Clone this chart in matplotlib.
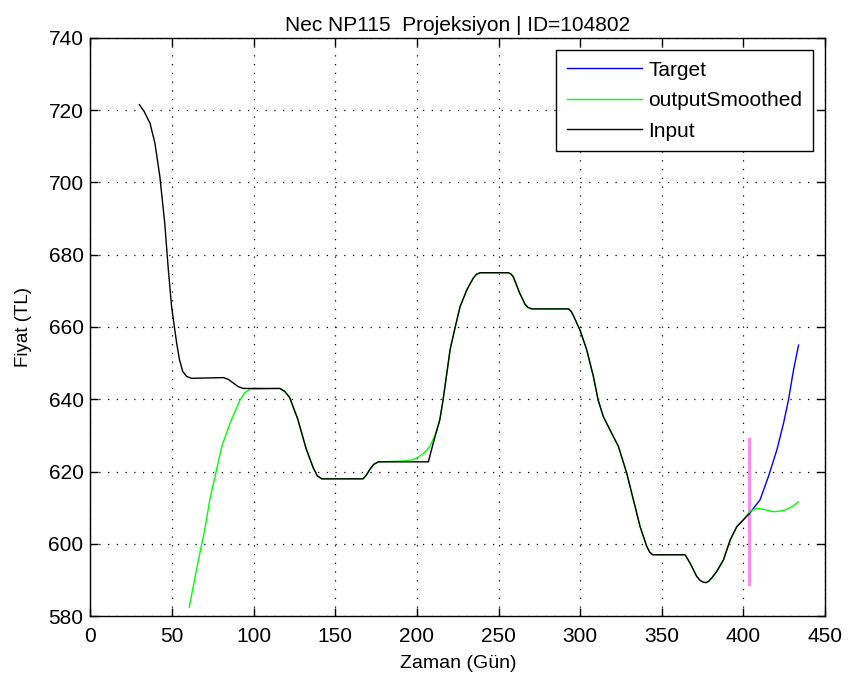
import matplotlib
matplotlib.use("Agg")
import matplotlib.pyplot as plt

plt.rcParams['font.family'] = ['Liberation Sans', 'DejaVu Sans']

# Observed price series (day, price)
input_x = [30, 33, 36.5, 39.5, 42.5, 45.5, 47.7, 49.7, 52.8, 54.5, 56.5, 59, 62,
           81.5, 84.5, 87.5, 90.5, 93.6, 116, 119, 122, 127, 132, 136.5, 139,
           141.7, 167, 169, 171, 173.5, 176.4, 207, 210, 214, 216, 218.3, 220.3,
           223.3, 226.4, 230.5, 234.5, 236.5, 238.7, 256, 257.5, 259, 263, 266.2,
           268, 270.3, 293, 294.5, 296, 300, 304, 308.1, 311, 314.2, 319.3,
           323.4, 328.5, 332.6, 336.7, 340.8, 342.5, 344.3, 364.3, 367.3, 371.4,
           373.5, 375.5, 377, 378.6, 381, 383.7, 387.8, 391.9, 396, 400, 403.5]
input_y = [721.5, 719.5, 716.3, 710.8, 701.6, 688.7, 675.8, 665.6, 655.5, 651.0,
           647.7, 646.3, 645.8, 646.0, 645.5, 644.5, 643.5, 643.0, 643.0, 642.2,
           640.5, 634.5, 626.5, 621.0, 618.8, 618.0, 618.0, 619.0, 620.5, 622.0,
           622.7, 622.7, 627.9, 634.3, 639.8, 647.2, 653.7, 659.7, 665.6, 670.2,
           673.5, 674.6, 675.0, 675.0, 674.7, 673.9, 669.3, 666.3, 665.4, 665.0,
           665.0, 664.3, 663.0, 659.0, 653.7, 646.3, 639.8, 635.2, 630.6, 627.0,
           619.6, 612.2, 604.8, 599.3, 597.8, 597.0, 597.0, 594.7, 591.0, 589.9,
           589.4, 589.3, 589.6, 590.8, 592.4, 595.6, 601.1, 604.8, 606.7, 608.3]

# Smoothed model output
smooth_x = [60.5, 65, 70, 73.3, 76.3, 80.4, 85.5, 91.6, 94.5, 97.7, 116, 119, 122,
            127, 132, 136.5, 139, 141.7, 167, 169, 171, 173.5, 176.4, 190, 196.8,
            200, 204, 208, 211, 214, 216, 218.3, 220.3, 223.3, 226.4, 230.5,
            234.5, 236.5, 238.7, 256, 257.5, 259, 263, 266.2, 268, 270.3, 293,
            294.5, 296, 300, 304, 308.1, 311, 314.2, 319.3, 323.4, 328.5, 332.6,
            336.7, 340.8, 342.5, 344.3, 364.3, 367.3, 371.4, 373.5, 375.5, 377,
            378.6, 381, 383.7, 387.8, 391.9, 396, 400, 404, 408, 412, 418.4,
            424.5, 429.6, 433.7]
smooth_y = [582.5, 593.0, 604.0, 612.7, 618.6, 626.9, 633.4, 639.8, 641.8, 642.8,
            643.0, 642.2, 640.5, 634.5, 626.5, 621.0, 618.8, 618.0, 618.0, 619.0,
            620.5, 622.0, 622.7, 622.9, 623.2, 623.8, 625.0, 627.0, 630.0, 634.3,
            639.8, 647.2, 653.7, 659.7, 665.6, 670.2, 673.5, 674.6, 675.0, 675.0,
            674.7, 673.9, 669.3, 666.3, 665.4, 665.0, 665.0, 664.3, 663.0, 659.0,
            653.7, 646.3, 639.8, 635.2, 630.6, 627.0, 619.6, 612.2, 604.8, 599.3,
            597.8, 597.0, 597.0, 594.7, 591.0, 589.9, 589.4, 589.3, 589.6, 590.8,
            592.4, 595.6, 601.1, 604.8, 606.7, 609.0, 609.8, 609.6, 608.9, 609.2,
            610.2, 611.6]

# Target projection
target_x = [403.5, 410.2, 415.3, 420.5, 424.6, 427.6, 430.7, 433.8]
target_y = [608.3, 612.2, 618.6, 626.0, 633.4, 639.8, 648.1, 655.0]

# Projection start marker
marker_x = 403.5
marker_y = [589, 629]

x_ticks = [0, 50, 100, 150, 200, 250, 300, 350, 400, 450]
y_ticks = [580, 600, 620, 640, 660, 680, 700, 720, 740]

fig = plt.figure(figsize=(8.48, 6.86), dpi=100)
ax = fig.add_axes([0.1067, 0.1017, 0.8662, 0.8433])

ax.plot([marker_x, marker_x], marker_y, color='#ff8cf0', lw=2.3, zorder=1)
ax.plot(target_x, target_y, color='#0000ff', lw=1.0, label='Target', zorder=2)
ax.plot(smooth_x, smooth_y, color='#00ff00', lw=1.0, label='outputSmoothed', zorder=3)
ax.plot(input_x, input_y, color='black', lw=1.0, label='Input', zorder=4)

ax.set_xlim(0, 450)
ax.set_ylim(580, 740)
ax.set_xticks(x_ticks)
ax.set_yticks(y_ticks)
ax.grid(True, color='black', linestyle=(0, (1, 6)), linewidth=0.9)
ax.tick_params(direction='in', top=True, right=True, length=6, width=1,
               labelsize=15)
ax.tick_params(axis='x', pad=8)
ax.tick_params(axis='y', pad=5)
for s in ax.spines.values():
    s.set_linewidth(1.0)

ax.set_title('Nec NP115  Projeksiyon | ID=104802', fontsize=15, pad=5)
ax.set_xlabel('Zaman (Gün)', fontsize=14, labelpad=6)
ax.set_ylabel('Fiyat (TL)', fontsize=13.5, labelpad=12)

leg = ax.legend(loc='upper right', fontsize=15, frameon=True, fancybox=False,
                edgecolor='black', framealpha=1, handlelength=3.6,
                borderaxespad=0.6, borderpad=0.5, labelspacing=0.55,
                handletextpad=0.3)
leg.get_frame().set_linewidth(1.0)

fig.savefig('out.png', dpi=100)
